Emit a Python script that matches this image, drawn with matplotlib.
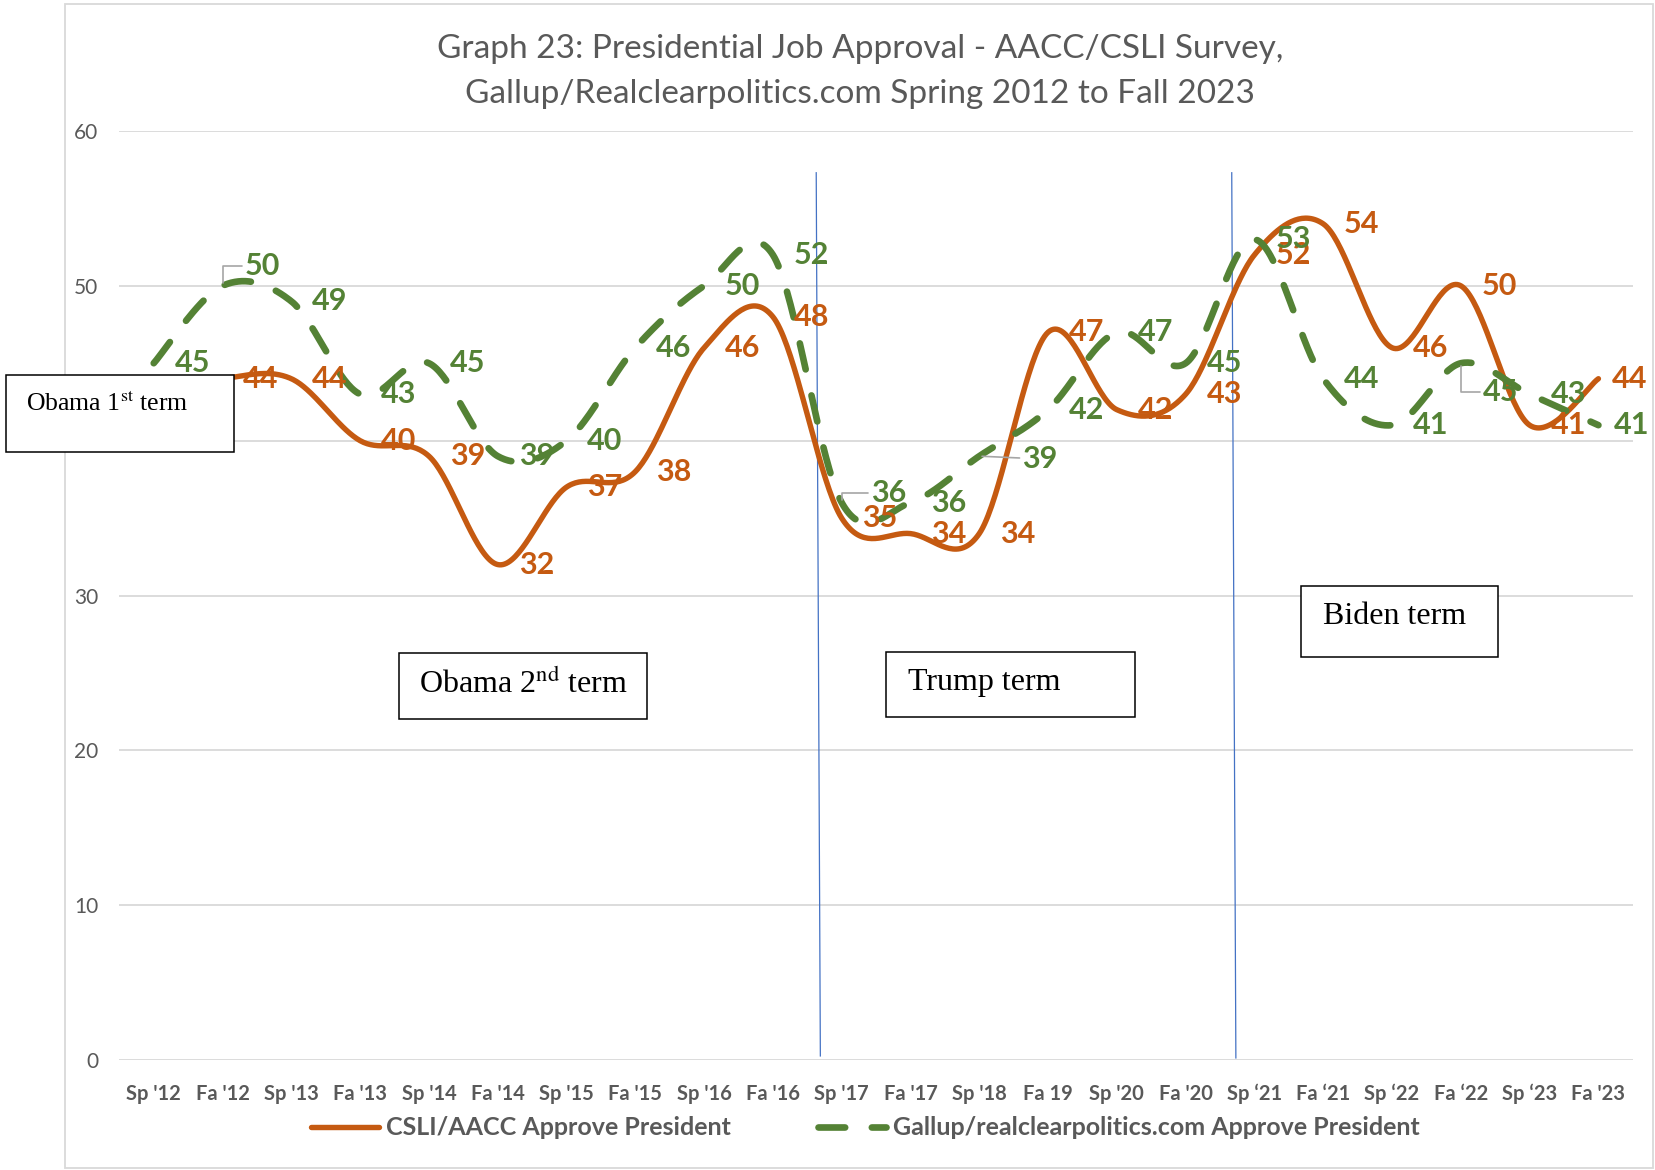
import numpy as np
import matplotlib.pyplot as plt
from matplotlib.patches import Rectangle

plt.rcParams['font.family'] = ['Lato', 'DejaVu Sans']
plt.rcParams['mathtext.fontset'] = 'stix'

# semesters on the x axis
terms = ["Sp '12", "Fa '12", "Sp '13", "Fa '13", "Sp '14", "Fa '14", "Sp '15", "Fa '15",
         "Sp '16", "Fa '16", "Sp '17", "Fa '17", "Sp '18", "Fa 19", "Sp '20", "Fa '20",
         "Sp \u201821", "Fa \u201821", "Sp \u201822", "Fa \u201822", "Sp \u201823", "Fa '23"]

# approval (%)
csli = [43, 44, 44, 40, 39, 32, 37, 38, 46, 48, 35, 34, 34, 47, 42, 43, 52, 54, 46, 50, 41, 44]
gallup = [45, 50, 49, 43, 45, 39, 40, 46, 50, 52, 36, 36, 39, 42, 47, 45, 53, 44, 41, 45, 43, 41]

# vertical term separators (x top, x bottom, y top, y bottom)
separators = [(9.63, 9.69, 57.3, 0.27), (15.67, 15.73, 57.3, 0.14)]

orange = '#C55A11'
green = '#548235'
gray = '#595959'


def smooth(xs, ys, n=40):
    # excel-like smoothed line (bezier with 1/6 tangents)
    pts = np.column_stack([xs, ys]).astype(float)
    pts = np.vstack([pts[0], pts, pts[-1]])
    t = np.linspace(0, 1, n)[:, None]
    out = []
    for i in range(1, len(pts) - 2):
        p0, p3 = pts[i], pts[i + 1]
        p1 = p0 + (pts[i + 1] - pts[i - 1]) / 6
        p2 = p3 - (pts[i + 2] - pts[i]) / 6
        seg = (1 - t) ** 3 * p0 + 3 * (1 - t) ** 2 * t * p1 + 3 * (1 - t) * t ** 2 * p2 + t ** 3 * p3
        out.append(seg if i == 1 else seg[1:])
    out = np.vstack(out)
    return out[:, 0], out[:, 1]


fig = plt.figure(figsize=(16.55, 11.7), dpi=100)
ax = fig.add_axes([0.0721, 0.0939, 0.9145, 0.7942])

x = np.arange(len(terms))

sx, sy = smooth(x, csli)
l1, = ax.plot(sx, sy, color=orange, lw=3.9, solid_capstyle='round', zorder=3,
              label='CSLI/AACC Approve President')
gx, gy = smooth(x, gallup)
l2, = ax.plot(gx, gy, color=green, lw=4.8, linestyle=(0, (4.0, 4.0)), dash_capstyle='round',
              zorder=3, label='Gallup/realclearpolitics.com Approve President')

for xt, xb, yt, yb in separators:
    ax.plot([xt, xb], [yt, yb], color='#4472C4', lw=0.9, zorder=2)

# data labels
green_off = {1: (16, 14), 10: (21, 7), 12: (31, -2), 19: (16, -21), 21: (11, 0)}
orange_off = {21: (10, 0)}
leaders = {1: 'angle,angleA=0,angleB=90,rad=0', 10: 'angle,angleA=0,angleB=90,rad=0',
           12: 'arc3', 19: 'angle,angleA=0,angleB=90,rad=0'}

for i, v in enumerate(csli):
    ax.annotate(str(v), (x[i], v), xytext=orange_off.get(i, (15, 0)), textcoords='offset points',
                ha='left', va='center', color=orange, fontsize=22, fontweight='bold', zorder=4)

for i, v in enumerate(gallup):
    props = None
    if i in leaders:
        props = dict(arrowstyle='-', color='#A6A6A6', lw=1.2, shrinkA=0, shrinkB=2,
                     connectionstyle=leaders[i])
    ax.annotate(str(v), (x[i], v), xytext=green_off.get(i, (15, 0)), textcoords='offset points',
                ha='left', va='center', color=green, fontsize=22, fontweight='bold', zorder=4,
                arrowprops=props)

ax.set_xlim(-0.5, len(terms) - 0.5)
ax.set_ylim(0, 60)
ax.set_yticks(range(0, 61, 10))
ax.set_xticks(x)
ax.set_xticklabels(terms, fontsize=14.5, fontweight='bold', color=gray)
ax.tick_params(axis='x', length=0, pad=17)
ax.tick_params(axis='y', length=0, pad=15, labelsize=15, labelcolor=gray)
ax.grid(axis='y', color='#D9D9D9', lw=1.3)
ax.set_axisbelow(True)
for s in ax.spines.values():
    s.set_visible(False)

# title
fig.text(0.5198, 0.9585, 'Graph 23: Presidential Job Approval - AACC/CSLI Survey,',
         ha='center', va='center', fontsize=24, color=gray)
fig.text(0.5198, 0.9197, 'Gallup/Realclearpolitics.com Spring 2012 to Fall 2023',
         ha='center', va='center', fontsize=24, color=gray)

# chart border
fig.add_artist(Rectangle((62 / 1568, 2 / 1108), 1 - 62 / 1568 - 0.001, 1 - 6 / 1108,
                         transform=fig.transFigure, fill=False, ec='#D9D9D9', lw=1.3, zorder=-1))

# term text boxes
boxes = [((6, 355, 222, 428), 'Obama 1$^{\\mathrm{st}}$ term', (25, 382), 18.5),
         ((378, 618, 613, 681), 'Obama 2$^{\\mathrm{nd}}$ term', (397, 648), 23),
         ((839, 617, 1075, 679), 'Trump term', (860, 646), 23),
         ((1233, 555, 1419, 622), 'Biden term', (1253, 584), 23)]
for (x0, y0, x1, y1), txt, (tx, ty), fs in boxes:
    fig.add_artist(Rectangle((x0 / 1568, 1 - y1 / 1108), (x1 - x0) / 1568, (y1 - y0) / 1108,
                             transform=fig.transFigure, fc='white', ec='black', lw=1.1, zorder=5))
    fig.text(tx / 1568, 1 - ty / 1108, txt, ha='left', va='center', fontsize=fs,
             family=['Liberation Serif', 'DejaVu Serif'], color='black', zorder=6)

leg = fig.legend(handles=[l1, l2], loc='center', bbox_to_anchor=(0.523, 0.0361), ncol=2,
                 frameon=False, handlelength=2.7, handletextpad=0.3, columnspacing=3.5,
                 prop=dict(size=18, weight='bold'))
for t in leg.get_texts():
    t.set_color(gray)

fig.savefig('out.png', dpi=100)
